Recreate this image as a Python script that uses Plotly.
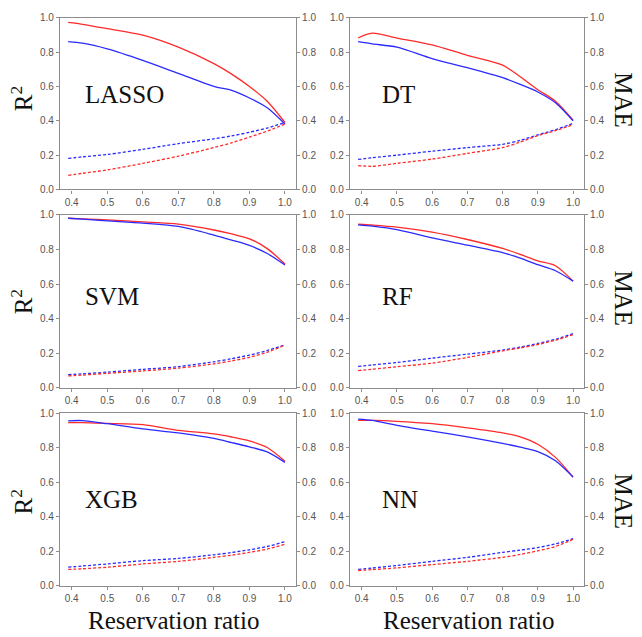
import plotly.graph_objects as go

# ---------------- data ----------------
ratio = [0.39, 0.43, 0.5, 0.6, 0.7, 0.8, 0.85, 0.9, 0.95, 1.0]
models = ["LASSO", "DT", "SVM", "RF", "XGB", "NN"]
x_ticks = [0.4, 0.5, 0.6, 0.7, 0.8, 0.9, 1.0]
y_ticks = [0.0, 0.2, 0.4, 0.6, 0.8, 1.0]

lasso_r2_red = [0.973, 0.962, 0.937, 0.899, 0.829, 0.733, 0.672, 0.600, 0.514, 0.390]
lasso_r2_blue = [0.861, 0.852, 0.819, 0.752, 0.676, 0.600, 0.577, 0.533, 0.476, 0.381]
lasso_mae_blue = [0.181, 0.190, 0.204, 0.234, 0.267, 0.295, 0.312, 0.333, 0.358, 0.390]
lasso_mae_red = [0.082, 0.094, 0.114, 0.152, 0.194, 0.244, 0.272, 0.305, 0.340, 0.381]

dt_r2_red = [0.882, 0.910, 0.882, 0.842, 0.781, 0.724, 0.657, 0.581, 0.514, 0.404]
dt_r2_blue = [0.861, 0.848, 0.829, 0.762, 0.709, 0.651, 0.612, 0.568, 0.505, 0.400]
dt_mae_blue = [0.175, 0.185, 0.200, 0.223, 0.244, 0.263, 0.286, 0.318, 0.348, 0.385]
dt_mae_red = [0.139, 0.135, 0.152, 0.177, 0.210, 0.244, 0.276, 0.314, 0.343, 0.377]

svm_r2_red = [0.981, 0.978, 0.972, 0.960, 0.947, 0.913, 0.890, 0.862, 0.805, 0.716]
svm_r2_blue = [0.981, 0.976, 0.966, 0.953, 0.934, 0.884, 0.855, 0.824, 0.777, 0.710]
svm_mae_blue = [0.075, 0.080, 0.090, 0.106, 0.122, 0.150, 0.168, 0.189, 0.215, 0.248]
svm_mae_red = [0.068, 0.073, 0.083, 0.097, 0.113, 0.138, 0.155, 0.176, 0.205, 0.246]

rf_r2_red = [0.947, 0.942, 0.930, 0.901, 0.858, 0.806, 0.772, 0.734, 0.706, 0.617]
rf_r2_blue = [0.943, 0.935, 0.915, 0.867, 0.825, 0.782, 0.750, 0.712, 0.677, 0.617]
rf_mae_blue = [0.123, 0.131, 0.146, 0.171, 0.194, 0.218, 0.235, 0.256, 0.280, 0.313]
rf_mae_red = [0.099, 0.107, 0.121, 0.142, 0.175, 0.213, 0.230, 0.250, 0.275, 0.307]

xgb_r2_red = [0.945, 0.945, 0.941, 0.934, 0.901, 0.880, 0.862, 0.839, 0.801, 0.721]
xgb_r2_blue = [0.956, 0.957, 0.939, 0.909, 0.886, 0.854, 0.830, 0.805, 0.776, 0.715]
xgb_mae_blue = [0.108, 0.115, 0.127, 0.146, 0.159, 0.180, 0.193, 0.209, 0.228, 0.256]
xgb_mae_red = [0.095, 0.099, 0.108, 0.127, 0.142, 0.165, 0.178, 0.194, 0.213, 0.241]

nn_r2_red = [0.958, 0.958, 0.953, 0.939, 0.915, 0.886, 0.863, 0.820, 0.744, 0.630]
nn_r2_blue = [0.966, 0.958, 0.930, 0.896, 0.863, 0.825, 0.803, 0.778, 0.725, 0.630]
nn_mae_blue = [0.095, 0.103, 0.118, 0.142, 0.165, 0.194, 0.207, 0.222, 0.243, 0.273]
nn_mae_red = [0.089, 0.094, 0.104, 0.123, 0.142, 0.165, 0.182, 0.203, 0.228, 0.269]

series = {
    "LASSO": (lasso_r2_red, lasso_r2_blue, lasso_mae_blue, lasso_mae_red),
    "DT": (dt_r2_red, dt_r2_blue, dt_mae_blue, dt_mae_red),
    "SVM": (svm_r2_red, svm_r2_blue, svm_mae_blue, svm_mae_red),
    "RF": (rf_r2_red, rf_r2_blue, rf_mae_blue, rf_mae_red),
    "XGB": (xgb_r2_red, xgb_r2_blue, xgb_mae_blue, xgb_mae_red),
    "NN": (nn_r2_red, nn_r2_blue, nn_mae_blue, nn_mae_red),
}

# ---------------- styling / layout ----------------
W, H = 642, 637
RED = "#ff2a2a"
BLUE = "#2a2aff"
AXC = "#8c8c8c"
TICKFONT = dict(family="Liberation Sans, Arial, sans-serif", size=10, color="#555555")
BIGFONT = dict(family="Liberation Serif, Times New Roman, serif", size=25, color="#111111")

col_px = [(60, 296), (350, 584)]
row_px = [(12, 187), (213, 389), (415, 591)]

fig = go.Figure()
layout = dict(
    width=W, height=H, margin=dict(l=0, r=0, t=0, b=0),
    paper_bgcolor="white", plot_bgcolor="white", showlegend=False,
)
annotations = []

for i, name in enumerate(models):
    r, c = divmod(i, 2)
    n = i + 1
    n2 = i + 7
    xa = "x" if n == 1 else f"x{n}"
    ya = "y" if n == 1 else f"y{n}"
    ya2 = f"y{n2}"
    x0, x1 = col_px[c]
    t, b = row_px[r]
    xdom = [x0 / W, x1 / W]
    ydom = [1 - b / H, 1 - t / H]

    r2_red, r2_blue, mae_blue, mae_red = series[name]
    fig.add_trace(go.Scatter(x=ratio, y=r2_red, mode="lines", xaxis=xa, yaxis=ya,
                             line=dict(color=RED, width=1.3, shape="spline", smoothing=0.8)))
    fig.add_trace(go.Scatter(x=ratio, y=r2_blue, mode="lines", xaxis=xa, yaxis=ya,
                             line=dict(color=BLUE, width=1.3, shape="spline", smoothing=0.8)))
    fig.add_trace(go.Scatter(x=ratio, y=mae_blue, mode="lines", xaxis=xa, yaxis=ya2,
                             line=dict(color=BLUE, width=1.3, dash="3px,2px", shape="spline", smoothing=0.8)))
    fig.add_trace(go.Scatter(x=ratio, y=mae_red, mode="lines", xaxis=xa, yaxis=ya2,
                             line=dict(color=RED, width=1.3, dash="3px,2px", shape="spline", smoothing=0.8)))

    axcommon = dict(showgrid=False, zeroline=False, showline=True, linecolor=AXC, linewidth=1.2,
                    ticks="outside", ticklen=3, tickcolor=AXC, tickfont=TICKFONT)
    layout["xaxis" if n == 1 else f"xaxis{n}"] = dict(
        domain=xdom, anchor=ya, range=[0.367, 1.031], tickvals=x_ticks, tickformat=".1f",
        mirror=True, **axcommon)
    layout["yaxis" if n == 1 else f"yaxis{n}"] = dict(
        domain=ydom, anchor=xa, range=[0, 1], tickvals=y_ticks, tickformat=".1f",
        mirror=True, **axcommon)
    layout[f"yaxis{n2}"] = dict(
        overlaying=ya, anchor=xa, side="right", range=[0, 1], tickvals=y_ticks,
        tickformat=".1f", **axcommon)

    # model name
    annotations.append(dict(
        text=name, xref="paper", yref="paper", showarrow=False,
        x=(x0 + (23 if c == 0 else 30)) / W, xanchor="left",
        y=1 - ((90, 296, 503)[r]) / H, yanchor="middle", font=BIGFONT))
    # side titles
    if c == 0:
        annotations.append(dict(
            text="R<sup>2</sup>", xref="paper", yref="paper", showarrow=False,
            x=22 / W, y=1 - (94, 301, 505)[r] / H, xanchor="center", yanchor="middle",
            textangle=-90, font=BIGFONT))
    else:
        annotations.append(dict(
            text="MAE", xref="paper", yref="paper", showarrow=False,
            x=624 / W, y=1 - (96, 298, 505)[r] / H, xanchor="center", yanchor="middle",
            textangle=90, font=BIGFONT))

for xc in (174, 468):
    annotations.append(dict(
        text="Reservation ratio", xref="paper", yref="paper", showarrow=False,
        x=xc / W, y=1 - 626 / H, xanchor="center", yanchor="middle", font=BIGFONT))

layout["annotations"] = annotations
fig.update_layout(**layout)
fig.write_html("out.html")
